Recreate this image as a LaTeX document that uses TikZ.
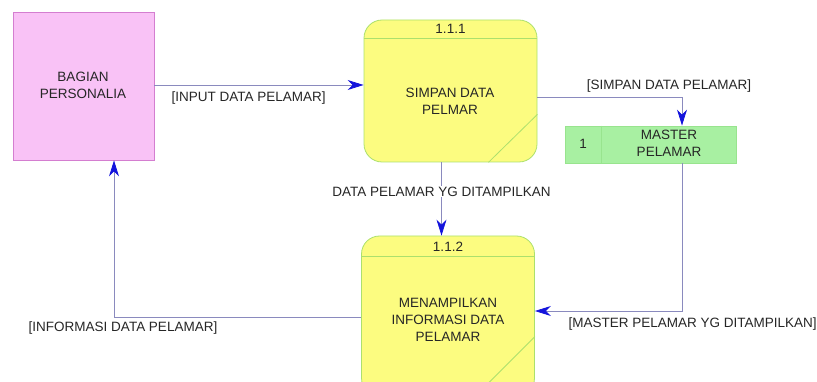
\documentclass[tikz,border=0pt]{standalone}
\usepackage{fontspec}
\setmainfont{Liberation Sans}
\usetikzlibrary{arrows.meta}

\definecolor{entfill}{HTML}{F9C2F6}
\definecolor{entline}{HTML}{D47ED0}
\definecolor{procfill}{HTML}{FCFC80}
\definecolor{procline}{HTML}{ACE06C}
\definecolor{storefill}{HTML}{A8F0A2}
\definecolor{storeline}{HTML}{98E48E}
\definecolor{flowline}{HTML}{8A8ABE}
\definecolor{flowtip}{HTML}{1414DC}

\tikzset{
  teks/.style={font=\fontsize{13.5}{17}\selectfont, align=center, text=black!85},
  entitas/.style={draw=entline, fill=entfill, line width=0.8pt, minimum width=141pt, minimum height=148pt},
  proses/.style={draw=procline, fill=procfill, line width=0.8pt, rounded corners=18pt, minimum width=173pt},
  simpanan/.style={draw=storeline, fill=storefill, line width=0.8pt, minimum width=171pt, minimum height=37pt},
  garis/.style={draw=procline, line width=0.8pt},
  alir/.style={draw=flowline, line width=0.8pt, -{Stealth[flowtip, length=16pt, width=10pt, inset=5pt]}}
}

\begin{document}
\begin{tikzpicture}[x=1pt, y=-1pt]
    \useasboundingbox (0,0) rectangle (817,382);

    % Entitas luar
    \node[entitas] (bp) at (83.5,86) {};
    \node[teks] (bpt) at (83,85) {BAGIAN\\PERSONALIA};

    % Proses 1.1.1
    \node[proses, minimum height=142pt] (p1) at (450.5,91) {};
    \draw[garis] ([yshift=-19pt]p1.north west) -- ([yshift=-19pt]p1.north east);
    \draw[garis] ([yshift=48pt]p1.south east) -- ([xshift=-49pt]p1.south east);
    \node[teks] (p1n) at ([yshift=-9pt]p1.north) {1.1.1};
    \node[teks] (p1t) at (450,101) {SIMPAN DATA\\PELMAR};

    % Proses 1.1.2 (terpotong di bawah)
    \node[proses, minimum height=160pt] (p2) at (448,316) {};
    \draw[garis] ([yshift=-21pt]p2.north west) -- ([yshift=-21pt]p2.north east);
    \draw[garis] ([yshift=-101pt]p2.north east) -- ([xshift=-46pt, yshift=-147pt]p2.north east);
    \node[teks] (p2n) at ([yshift=-11pt]p2.north) {1.1.2};
    \node[teks] (p2t) at (448,320) {MENAMPILKAN\\INFORMASI DATA\\PELAMAR};

    % Simpanan data 1
    \node[simpanan] (ms) at (651,144.5) {};
    \draw[draw=storeline, line width=0.8pt] ([xshift=36pt]ms.north west) -- ([xshift=36pt]ms.south west);
    \node[teks] (msn) at (583,144) {1};
    \node[teks] (mst) at (669,143) {MASTER\\PELAMAR};

    % Aliran data
    \draw[alir] (bp.east |- 0,85) -- (p1.west |- 0,85)
        node[teks, pos=0.45, below=3pt] {[INPUT DATA PELAMAR]};
    \draw[alir] ([yshift=-6pt]p1.east) -| ([xshift=31pt]ms.north)
        node[teks, pos=0.455, above=1pt] {[SIMPAN DATA PELAMAR]};
    \draw[alir] ([xshift=-9pt]p1.south) -- ([xshift=-9pt]p1.south |- p2.north)
        node[teks, pos=0.4, fill=white, inner sep=1pt] {DATA PELAMAR YG DITAMPILKAN};
    \draw[alir] ([xshift=31pt]ms.south) |- ([yshift=5pt]p2.east);
    \node[teks, anchor=west] (lbm) at (565,324) {[MASTER PELAMAR YG DITAMPILKAN]};
    \draw[alir] ([yshift=-1pt]p2.west) -| ([xshift=30.5pt]bp.south);
    \node[teks] (lbi) at (123,328) {[INFORMASI DATA PELAMAR]};
\end{tikzpicture}
\end{document}
